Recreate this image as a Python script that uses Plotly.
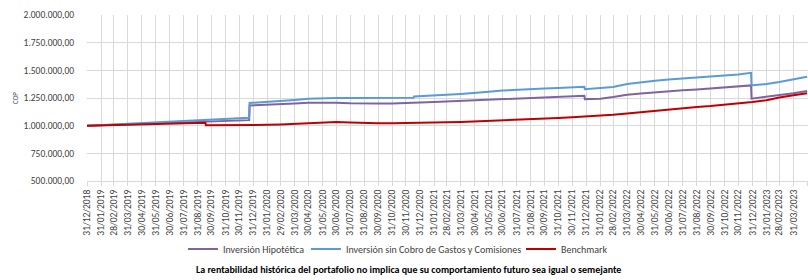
import plotly.graph_objects as go

# ---- data ----
dates = [
    "2018-12-31", "2019-01-31", "2019-02-28", "2019-03-31", "2019-04-30", "2019-05-31",
    "2019-06-30", "2019-07-31", "2019-08-31", "2019-09-17", "2019-09-18", "2019-09-30",
    "2019-10-31", "2019-11-30", "2019-12-22", "2019-12-23", "2019-12-31",
    "2020-01-31", "2020-02-29", "2020-03-31", "2020-04-30", "2020-05-31", "2020-06-30",
    "2020-07-31", "2020-08-31", "2020-09-30", "2020-10-31", "2020-11-30", "2020-12-17",
    "2020-12-18", "2020-12-31",
    "2021-01-31", "2021-02-28", "2021-03-31", "2021-04-30", "2021-05-31", "2021-06-30",
    "2021-07-31", "2021-08-31", "2021-09-30", "2021-10-31", "2021-11-30", "2021-12-27",
    "2021-12-28", "2021-12-31",
    "2022-01-31", "2022-02-28", "2022-03-31", "2022-04-30", "2022-05-31", "2022-06-30",
    "2022-07-31", "2022-08-31", "2022-09-30", "2022-10-31", "2022-11-30", "2022-12-28",
    "2022-12-29", "2022-12-31",
    "2023-01-31", "2023-02-28", "2023-03-31", "2023-04-30",
]

inversion_hipotetica = [
    1000000, 1004000, 1008000, 1013000, 1017000, 1021000,
    1025000, 1030000, 1034000, 1036000, 1036000, 1038000,
    1043000, 1047000, 1050000, 1183000, 1185000,
    1189000, 1195000, 1201000, 1206000, 1209000, 1208000,
    1203000, 1199000, 1200000, 1201000, 1203000, 1204000,
    1209000, 1210000,
    1214000, 1219000, 1224000, 1229000, 1235000, 1243000,
    1250000, 1254000, 1258000, 1262000, 1266000, 1270000,
    1240000, 1240000,
    1244000, 1258000, 1279000, 1290000, 1302000, 1313000,
    1320000, 1327000, 1338000, 1346000, 1355000, 1364000,
    1244000, 1245000,
    1256000, 1270000, 1292000, 1314000,
]

inversion_sin_cobro = [
    1000000, 1006000, 1012000, 1018000, 1024000, 1031000,
    1036000, 1043000, 1049000, 1052000, 1052000, 1055000,
    1061000, 1067000, 1072000, 1205000, 1207000,
    1213000, 1222000, 1233000, 1243000, 1248000, 1250000,
    1250000, 1249000, 1249000, 1250000, 1251000, 1252000,
    1264000, 1266000,
    1274000, 1280000, 1287000, 1294000, 1306000, 1317000,
    1325000, 1330000, 1336000, 1341000, 1346000, 1351000,
    1330000, 1331000,
    1335000, 1350000, 1377000, 1393000, 1405000, 1418000,
    1426000, 1433000, 1440000, 1450000, 1462000, 1478000,
    1364000, 1365000,
    1377000, 1395000, 1420000, 1442000,
]

benchmark = [
    1000000, 1003000, 1006000, 1010000, 1013000, 1016000,
    1019000, 1022000, 1025000, 1027000, 1003000, 1003000,
    1004000, 1005000, 1006000, 1006000, 1006000,
    1008000, 1011000, 1016000, 1024000, 1030000, 1033000,
    1028000, 1022000, 1021000, 1022000, 1023000, 1023000,
    1023000, 1024000,
    1027000, 1030000, 1034000, 1040000, 1045000, 1050000,
    1055000, 1059000, 1064000, 1070000, 1075000, 1080000,
    1080000, 1081000,
    1088000, 1098000, 1110000, 1122000, 1136000, 1148000,
    1158000, 1168000, 1177000, 1188000, 1200000, 1212000,
    1212000, 1213000,
    1230000, 1255000, 1275000, 1292000,
]

x_tick_dates = [
    "2018-12-31", "2019-01-31", "2019-02-28", "2019-03-31", "2019-04-30", "2019-05-31",
    "2019-06-30", "2019-07-31", "2019-08-31", "2019-09-30", "2019-10-31", "2019-11-30",
    "2019-12-31", "2020-01-31", "2020-02-29", "2020-03-31", "2020-04-30", "2020-05-31",
    "2020-06-30", "2020-07-31", "2020-08-31", "2020-09-30", "2020-10-31", "2020-11-30",
    "2020-12-31", "2021-01-31", "2021-02-28", "2021-03-31", "2021-04-30", "2021-05-31",
    "2021-06-30", "2021-07-31", "2021-08-31", "2021-09-30", "2021-10-31", "2021-11-30",
    "2021-12-31", "2022-01-31", "2022-02-28", "2022-03-31", "2022-04-30", "2022-05-31",
    "2022-06-30", "2022-07-31", "2022-08-31", "2022-09-30", "2022-10-31", "2022-11-30",
    "2022-12-31", "2023-01-31", "2023-02-28", "2023-03-31", "2023-04-30",
]
x_tick_labels = ["/".join(reversed(d.split("-"))) for d in x_tick_dates]

y_tick_values = [500000, 750000, 1000000, 1250000, 1500000, 1750000, 2000000]
y_tick_labels = ["500.000,00", "750.000,00", "1.000.000,00", "1.250.000,00",
                 "1.500.000,00", "1.750.000,00", "2.000.000,00"]

series_names = ["Inversión Hipotética", "Inversión sin Cobro de Gastos y Comisiones", "Benchmark"]
series_colors = ["#8064A2", "#5B9BD5", "#C00000"]
legend_widths = [78, 170, 50]
caption = "La rentabilidad histórica del portafolio no implica que su comportamiento futuro sea igual o semejante"

FONT = "Calibri, Carlito, Lato, sans-serif"
TXT = "#404040"

fig = go.Figure()
for name, vals, col, lw in zip(series_names, [inversion_hipotetica, inversion_sin_cobro, benchmark],
                               series_colors, legend_widths):
    fig.add_trace(go.Scatter(x=dates, y=vals, mode="lines", name=name,
                             line=dict(color=col, width=2), legendwidth=lw))

W, H = 808, 280
ML, MR, MT, MB = 87, 0, 15, 99
pw = W - ML - MR
ph = H - MT - MB

def px_x(px):
    return (px - ML) / pw

def px_y(py):
    return (H - MB - py) / ph

fig.update_layout(
    width=W, height=H,
    margin=dict(l=ML, r=MR, t=MT, b=MB, autoexpand=False),
    paper_bgcolor="white", plot_bgcolor="white",
    font=dict(family=FONT, size=10, color=TXT),
    showlegend=True,
    legend=dict(orientation="h", x=px_x(183), y=px_y(249), xanchor="left", yanchor="middle",
                font=dict(family=FONT, size=10, color=TXT), itemwidth=30,
                bgcolor="rgba(0,0,0,0)", tracegroupgap=0),
    annotations=[dict(text="<b>" + caption + "</b>", x=px_x(408), y=px_y(269),
                      xref="paper", yref="paper", showarrow=False,
                      xanchor="center", yanchor="middle",
                      font=dict(family=FONT, size=10, color="#000000"))],
)

fig.update_xaxes(
    type="date", range=["2018-12-31", "2023-05-02"],
    tickmode="array", tickvals=x_tick_dates, ticktext=x_tick_labels,
    tickangle=-90, tickfont=dict(family=FONT, size=9.5, color=TXT),
    showgrid=True, gridcolor="#D9D9D9", gridwidth=1,
    ticks="outside", ticklen=4, tickcolor="#D9D9D9",
    showline=True, linecolor="#D9D9D9", linewidth=1,
    zeroline=False, automargin=False,
)
fig.update_yaxes(
    range=[500000, 2000000],
    tickmode="array", tickvals=y_tick_values, ticktext=y_tick_labels,
    tickfont=dict(family=FONT, size=9.5, color=TXT),
    showgrid=True, gridcolor="#D9D9D9", gridwidth=1,
    ticks="outside", ticklen=10, tickcolor="rgba(0,0,0,0)",
    showline=False, zeroline=False, automargin=False,
    title=dict(text="COP", font=dict(family=FONT, size=7, color="#44546A"), standoff=4),
)

fig.write_html("out.html", config={"displayModeBar": False},
               post_script="document.body.style.margin='0';")
